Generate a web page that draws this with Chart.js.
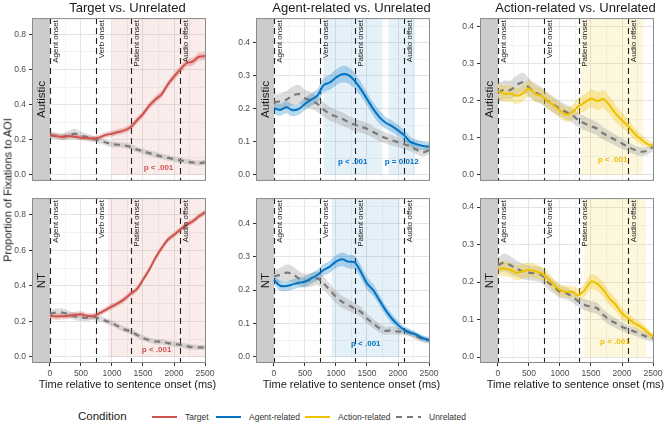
<!DOCTYPE html>
<html><head><meta charset="utf-8">
<script src="https://cdn.jsdelivr.net/npm/chart.js@4.4.1/dist/chart.umd.min.js"></script>
<style>
html,body{margin:0;padding:0;background:#fff;}
body{width:669px;height:441px;position:relative;overflow:hidden;font-family:"Liberation Sans",Arial,Helvetica,sans-serif;color:#1a1a1a;}
canvas{position:absolute;}
.t{position:absolute;white-space:nowrap;line-height:1;transform:translate(-50%,-50%);}
.rot{transform:translate(-50%,-50%) rotate(-90deg);}
.lt{position:absolute;white-space:nowrap;line-height:1;transform:translateY(-50%);}
.key{position:absolute;width:25px;height:2px;}
</style></head><body>
<script>
// ---------------- DATA ----------------
const times = [0,100,200,300,400,500,600,700,800,900,1000,1100,1200,1300,1400,1500,1600,1700,1800,1900,2000,2100,2200,2300,2400,2500];
const comparisons = ['Target vs. Unrelated','Agent-related vs. Unrelated','Action-related vs. Unrelated'];
const groups = ['Autistic','NT'];
const conditions = ['Target','Agent-related','Action-related','Unrelated'];
const eventTimes = [0,750,1300,2100];
const eventLabels = ['Agent onset','Verb onset','Patient onset','Audio offset'];
// axis ticks (major ones are labelled, the others are minor grid lines)
const xTickValues = [0,250,500,750,1000,1250,1500,1750,2000,2250,2500];
const xMajorTicks = [0,500,1000,1500,2000,2500];
const yTickValues = [
  [0,0.1,0.2,0.3,0.4,0.5,0.6,0.7,0.8],
  [0,0.05,0.1,0.15,0.2,0.25,0.3,0.35,0.4,0.45],
  [0,0.05,0.1,0.15,0.2,0.25,0.3,0.35,0.4]
];
const yMajorTicks = [
  [0,0.2,0.4,0.6,0.8],
  [0,0.1,0.2,0.3,0.4],
  [0,0.1,0.2,0.3,0.4]
];

// Target vs Unrelated
const targetAut = [0.226,0.222,0.216,0.222,0.218,0.212,0.210,0.207,0.214,0.228,0.235,0.244,0.254,0.272,0.310,0.347,0.394,0.430,0.459,0.515,0.560,0.600,0.636,0.645,0.673,0.677];
const targetAutSE = [0.015,0.015,0.015,0.015,0.015,0.015,0.015,0.015,0.015,0.016,0.016,0.017,0.017,0.018,0.018,0.019,0.019,0.020,0.020,0.020,0.021,0.021,0.021,0.022,0.022,0.022];
const unrelTargetAut = [0.226,0.222,0.218,0.225,0.235,0.222,0.215,0.205,0.195,0.185,0.175,0.172,0.168,0.160,0.145,0.134,0.124,0.114,0.105,0.097,0.090,0.083,0.077,0.071,0.067,0.072];
const unrelTargetAutSE = [0.018,0.018,0.020,0.025,0.028,0.025,0.020,0.018,0.018,0.017,0.017,0.016,0.016,0.016,0.016,0.016,0.016,0.016,0.016,0.016,0.015,0.015,0.015,0.015,0.015,0.015];
const targetNT = [0.231,0.227,0.229,0.231,0.237,0.240,0.231,0.229,0.246,0.265,0.284,0.302,0.325,0.355,0.381,0.434,0.490,0.556,0.612,0.659,0.687,0.715,0.744,0.762,0.790,0.813];
const targetNTSE = [0.018,0.018,0.017,0.017,0.017,0.017,0.016,0.016,0.016,0.016,0.016,0.016,0.017,0.017,0.017,0.017,0.017,0.017,0.016,0.016,0.016,0.016,0.016,0.016,0.016,0.016];
const unrelTargetNT = [0.242,0.250,0.250,0.240,0.228,0.222,0.220,0.225,0.215,0.203,0.190,0.172,0.155,0.143,0.125,0.107,0.095,0.087,0.085,0.078,0.073,0.068,0.060,0.055,0.054,0.053];
const unrelTargetNTSE = [0.020,0.022,0.022,0.020,0.020,0.020,0.018,0.018,0.016,0.016,0.016,0.016,0.016,0.015,0.015,0.015,0.015,0.015,0.015,0.015,0.015,0.015,0.015,0.015,0.015,0.015];

// Agent-related vs Unrelated
const agentAut = [0.202,0.197,0.205,0.196,0.200,0.215,0.228,0.240,0.272,0.280,0.295,0.305,0.302,0.285,0.260,0.230,0.200,0.175,0.158,0.148,0.135,0.120,0.100,0.093,0.088,0.086];
const agentAutSE = [0.018,0.018,0.018,0.018,0.018,0.018,0.019,0.020,0.022,0.023,0.024,0.025,0.025,0.024,0.022,0.020,0.020,0.020,0.018,0.017,0.017,0.016,0.015,0.014,0.013,0.012];
const unrelAgentAut = [0.220,0.223,0.228,0.240,0.245,0.232,0.225,0.215,0.198,0.185,0.177,0.170,0.160,0.152,0.146,0.140,0.130,0.120,0.112,0.105,0.099,0.093,0.086,0.076,0.068,0.075];
const unrelAgentAutSE = [0.022,0.024,0.026,0.028,0.028,0.026,0.025,0.024,0.022,0.021,0.020,0.020,0.019,0.019,0.018,0.018,0.017,0.017,0.016,0.016,0.015,0.015,0.014,0.013,0.013,0.012];
const agentNT = [0.230,0.213,0.212,0.217,0.222,0.225,0.235,0.245,0.260,0.270,0.285,0.292,0.285,0.283,0.255,0.220,0.200,0.170,0.140,0.115,0.096,0.081,0.073,0.066,0.056,0.051];
const agentNTSE = [0.015,0.015,0.015,0.015,0.015,0.016,0.016,0.016,0.017,0.018,0.019,0.020,0.020,0.020,0.020,0.019,0.018,0.016,0.015,0.014,0.012,0.011,0.010,0.009,0.009,0.008];
const unrelAgentNT = [0.242,0.245,0.252,0.248,0.235,0.228,0.230,0.235,0.220,0.200,0.180,0.165,0.155,0.145,0.135,0.115,0.100,0.086,0.078,0.080,0.076,0.076,0.071,0.061,0.053,0.049];
const unrelAgentNTSE = [0.020,0.022,0.024,0.024,0.022,0.020,0.020,0.020,0.020,0.020,0.019,0.018,0.017,0.016,0.015,0.015,0.014,0.013,0.012,0.012,0.011,0.011,0.010,0.010,0.009,0.009];

// Action-related vs Unrelated
const actionAut = [0.228,0.219,0.220,0.214,0.220,0.234,0.219,0.214,0.200,0.188,0.174,0.163,0.170,0.186,0.196,0.207,0.200,0.205,0.188,0.165,0.148,0.132,0.112,0.097,0.085,0.079];
const actionAutSE = [0.022,0.022,0.022,0.022,0.022,0.022,0.022,0.020,0.020,0.020,0.020,0.020,0.020,0.022,0.023,0.024,0.025,0.025,0.024,0.022,0.020,0.018,0.016,0.014,0.012,0.011];
const unrelActionAut = [0.223,0.230,0.230,0.243,0.250,0.236,0.223,0.214,0.200,0.189,0.179,0.170,0.161,0.148,0.139,0.132,0.125,0.112,0.103,0.094,0.085,0.076,0.068,0.063,0.065,0.076];
const unrelActionAutSE = [0.025,0.025,0.025,0.026,0.026,0.025,0.024,0.023,0.022,0.022,0.021,0.020,0.020,0.020,0.019,0.018,0.018,0.017,0.016,0.015,0.014,0.013,0.012,0.012,0.011,0.011];
const actionNT = [0.236,0.236,0.232,0.225,0.229,0.232,0.229,0.223,0.210,0.192,0.179,0.174,0.174,0.165,0.179,0.201,0.196,0.179,0.156,0.139,0.116,0.103,0.090,0.081,0.068,0.054];
const actionNTSE = [0.020,0.020,0.020,0.020,0.020,0.020,0.019,0.018,0.018,0.017,0.016,0.016,0.016,0.017,0.018,0.020,0.020,0.019,0.018,0.016,0.015,0.014,0.013,0.012,0.011,0.010];
const unrelActionNT = [0.245,0.252,0.245,0.236,0.228,0.225,0.223,0.219,0.200,0.188,0.174,0.170,0.161,0.148,0.139,0.134,0.130,0.112,0.099,0.090,0.081,0.074,0.068,0.061,0.054,0.050];
const unrelActionNTSE = [0.022,0.024,0.024,0.022,0.021,0.020,0.020,0.020,0.019,0.018,0.017,0.016,0.016,0.015,0.015,0.015,0.015,0.014,0.014,0.013,0.012,0.011,0.011,0.010,0.010,0.010];

// significant windows (ms) and their labels
const shadeTargetAut = [[1000,2500]];   const pTargetAut = ['p < .001'];
const shadeTargetNT  = [[940,2500]];    const pTargetNT  = ['p < .001'];
const shadeAgentAut  = [[800,1740],[1845,2275]]; const pAgentAut = ['p < .001','p = 0.012'];
const shadeAgentNT   = [[930,2030]];    const pAgentNT   = ['p < .001'];
const shadeActionAut = [[1350,2345]];   const pActionAut = ['p < .001'];
const shadeActionNT  = [[1385,2385]];   const pActionNT  = ['p < .001'];
const pLabelY = 0.04;

// ---------------- STYLE / LAYOUT ----------------
const FONT = '"Liberation Sans", Arial, sans-serif';
const condColors = ['#CD534C','#0073C2','#EFC000','#7A7A7A'];
const bandColors = ['rgba(205,83,76,0.30)','rgba(0,115,194,0.28)','rgba(239,192,0,0.30)','rgba(134,134,134,0.28)'];
const shadeColors = ['rgba(205,83,76,0.11)','rgba(0,115,194,0.10)','rgba(239,192,0,0.13)'];
const X_MIN = -290, X_MAX = 2516;
const yMin = [-0.034,-0.018,-0.016], yMax = [0.893,0.475,0.424];
const colL = [32,256,480], rowT = [18,198], PW = 174, PH = 165;
const Y_W = 30, PAD_T = 8, PAD_R = 12, PAD_B = 6, X_H = 24;
const GRID_MAJ = '#E4E4E4', GRID_MIN = '#F2F2F2', TICK_COL = '#333333', BORDER = '#8A8A8A';

const panels = [
  {col:0,row:0,cond:0,main:targetAut,mainSE:targetAutSE,unrel:unrelTargetAut,unrelSE:unrelTargetAutSE,shades:shadeTargetAut,pvals:pTargetAut},
  {col:1,row:0,cond:1,main:agentAut,mainSE:agentAutSE,unrel:unrelAgentAut,unrelSE:unrelAgentAutSE,shades:shadeAgentAut,pvals:pAgentAut},
  {col:2,row:0,cond:2,main:actionAut,mainSE:actionAutSE,unrel:unrelActionAut,unrelSE:unrelActionAutSE,shades:shadeActionAut,pvals:pActionAut},
  {col:0,row:1,cond:0,main:targetNT,mainSE:targetNTSE,unrel:unrelTargetNT,unrelSE:unrelTargetNTSE,shades:shadeTargetNT,pvals:pTargetNT},
  {col:1,row:1,cond:1,main:agentNT,mainSE:agentNTSE,unrel:unrelAgentNT,unrelSE:unrelAgentNTSE,shades:shadeAgentNT,pvals:pAgentNT},
  {col:2,row:1,cond:2,main:actionNT,mainSE:actionNTSE,unrel:unrelActionNT,unrelSE:unrelActionNTSE,shades:shadeActionNT,pvals:pActionNT}
];

const inList = (v, list) => list.some(m => Math.abs(m - v) < 1e-6);

const panelPlugin = {
  id: 'panel',
  beforeDatasetsDraw(chart, args, o) {
    const {ctx, chartArea: a, scales: {x, y}} = chart;
    ctx.save();
    const y0 = y.getPixelForValue(0);
    ctx.fillStyle = o.shadeColor;
    o.shades.forEach(s => {
      const x0 = x.getPixelForValue(s[0]), x1 = x.getPixelForValue(s[1]);
      ctx.fillRect(x0, a.top, x1 - x0, y0 - a.top);
    });
    const sx = x.getPixelForValue(0);
    ctx.fillStyle = '#CCCCCC';
    ctx.fillRect(a.left, a.top, sx - a.left, a.bottom - a.top);
    ctx.strokeStyle = '#1F1F1F';
    ctx.lineWidth = 1.1;
    ctx.setLineDash([6, 4]);
    eventTimes.forEach(t => {
      const px = Math.round(x.getPixelForValue(t)) + 0.5;
      ctx.beginPath(); ctx.moveTo(px, a.top); ctx.lineTo(px, a.bottom); ctx.stroke();
    });
    ctx.setLineDash([]);
    ctx.save();
    ctx.translate((a.left + sx) / 2, (a.top + a.bottom) / 2);
    ctx.rotate(-Math.PI / 2);
    ctx.fillStyle = '#1A1A1A';
    ctx.font = '11.5px ' + FONT;
    ctx.textAlign = 'center'; ctx.textBaseline = 'middle';
    ctx.fillText(o.group, 0, 1);
    ctx.restore();
    ctx.restore();
  },
  afterDatasetsDraw(chart, args, o) {
    const {ctx, chartArea: a, scales: {x, y}} = chart;
    ctx.save();
    ctx.fillStyle = '#1A1A1A';
    ctx.font = '8px ' + FONT;
    eventTimes.forEach((t, i) => {
      const px = Math.round(x.getPixelForValue(t)) + 1.5;
      ctx.save();
      ctx.translate(px, a.top + 2);
      ctx.rotate(-Math.PI / 2);
      ctx.textAlign = 'right'; ctx.textBaseline = 'top';
      ctx.fillText(eventLabels[i], 0, 0);
      ctx.restore();
    });
    ctx.fillStyle = o.color;
    ctx.font = 'bold 8px ' + FONT;
    ctx.textAlign = 'center'; ctx.textBaseline = 'middle';
    o.shades.forEach((s, i) => {
      ctx.fillText(o.pvals[i], x.getPixelForValue((s[0] + s[1]) / 2), y.getPixelForValue(pLabelY));
    });
    ctx.restore();
  },
  afterDraw(chart) {
    const {ctx, chartArea: a} = chart;
    ctx.save();
    ctx.strokeStyle = BORDER; ctx.lineWidth = 1;
    ctx.strokeRect(a.left + 0.5, a.top + 0.5, a.right - a.left - 1, a.bottom - a.top - 1);
    ctx.restore();
  }
};

function pts(v, se, sign) { return times.map((t, i) => ({x: t, y: v[i] + sign * (se ? se[i] : 0)})); }

function makeChart(p) {
  const c = p.col, r = p.row;
  const cv = document.createElement('canvas');
  const w = Y_W + PW + PAD_R, h = PAD_T + PH + (r === 1 ? X_H : 0) + PAD_B;
  cv.width = w; cv.height = h;
  cv.style.left = (colL[c] - Y_W) + 'px'; cv.style.top = (rowT[r] - PAD_T) + 'px';
  cv.style.width = w + 'px'; cv.style.height = h + 'px';
  document.body.appendChild(cv);
  const base = {pointRadius: 0, tension: 0.3, borderCapStyle: 'butt'};
  const bandLine = {borderWidth: 0, borderColor: 'rgba(0,0,0,0)'};
  const xMaj = ctx => ctx.tick && inList(ctx.tick.value, xMajorTicks);
  const yMaj = ctx => ctx.tick && inList(ctx.tick.value, yMajorTicks[c]);
  new Chart(cv, {
    type: 'line',
    data: {datasets: [
      Object.assign({}, base, {data: pts(p.main, null, 0), borderColor: condColors[p.cond], borderWidth: 2, fill: false}),
      Object.assign({}, base, {data: pts(p.unrel, null, 0), borderColor: condColors[3], borderWidth: 2.2, borderDash: [6, 5], fill: false}),
      Object.assign({}, base, bandLine, {data: pts(p.main, p.mainSE, 1), backgroundColor: bandColors[p.cond], fill: '+1'}),
      Object.assign({}, base, bandLine, {data: pts(p.main, p.mainSE, -1), fill: false}),
      Object.assign({}, base, bandLine, {data: pts(p.unrel, p.unrelSE, 1), backgroundColor: bandColors[3], fill: '+1'}),
      Object.assign({}, base, bandLine, {data: pts(p.unrel, p.unrelSE, -1), fill: false})
    ]},
    options: {
      responsive: false, animation: false, events: [],
      devicePixelRatio: 1,
      layout: {padding: {left: 0, top: PAD_T, right: PAD_R, bottom: PAD_B}},
      plugins: {
        legend: {display: false}, tooltip: {enabled: false},
        panel: {group: groups[r], shades: p.shades, pvals: p.pvals, color: condColors[p.cond], shadeColor: shadeColors[p.cond]}
      },
      scales: {
        x: {
          type: 'linear', min: X_MIN, max: X_MAX, bounds: 'data',
          afterBuildTicks: s => { s.ticks = xTickValues.map(v => ({value: v})); },
          afterFit: s => { s.height = r === 1 ? X_H : 0; },
          border: {display: false},
          grid: {
            drawTicks: r === 1, tickLength: 3, lineWidth: 1,
            color: ctx => xMaj(ctx) ? GRID_MAJ : GRID_MIN,
            tickColor: ctx => xMaj(ctx) ? TICK_COL : 'rgba(0,0,0,0)'
          },
          ticks: {
            display: r === 1, autoSkip: false, maxRotation: 0, minRotation: 0, padding: 3,
            color: '#4D4D4D', font: {size: 8.5, family: FONT},
            callback: v => inList(v, xMajorTicks) ? String(Math.round(v)) : ''
          }
        },
        y: {
          type: 'linear', min: yMin[c], max: yMax[c], bounds: 'data',
          afterBuildTicks: s => { s.ticks = yTickValues[c].map(v => ({value: v})); },
          afterFit: s => { s.width = Y_W; },
          border: {display: false},
          grid: {
            drawTicks: true, tickLength: 3, lineWidth: 1,
            color: ctx => yMaj(ctx) ? GRID_MAJ : GRID_MIN,
            tickColor: ctx => yMaj(ctx) ? TICK_COL : 'rgba(0,0,0,0)'
          },
          ticks: {
            autoSkip: false, padding: 3, color: '#4D4D4D', font: {size: 8.5, family: FONT},
            callback: v => inList(v, yMajorTicks[c]) ? v.toFixed(1) : ''
          }
        }
      }
    },
    plugins: [panelPlugin]
  });
}
panels.forEach(makeChart);

// ---------------- TEXT ----------------
function addText(txt, x, y, size, cls, extra) {
  const d = document.createElement('div');
  d.className = cls; d.textContent = txt;
  d.style.left = x + 'px'; d.style.top = y + 'px'; d.style.fontSize = size + 'px';
  if (extra) Object.assign(d.style, extra);
  document.body.appendChild(d);
  return d;
}
const pxPerMs = PW / (X_MAX - X_MIN);
comparisons.forEach((t, c) => {
  const cx = colL[c] + (1250 - X_MIN) * pxPerMs;
  addText(t, cx, 6.5, 13, 't');
  addText('Time relative to sentence onset (ms)', cx, 384, 11, 't');
});
addText('Proportion of Fixations to AOI', 8, 190, 11, 't rot');

const keyX = [152, 216, 305, 396];
addText('Condition', 78, 417, 11.5, 'lt');
conditions.forEach((name, i) => {
  const k = document.createElement('div');
  k.className = 'key';
  k.style.left = keyX[i] + 'px'; k.style.top = '416px';
  if (i === 3) k.style.background = 'repeating-linear-gradient(90deg,' + condColors[3] + ' 0 6px, transparent 6px 11px)';
  else k.style.background = condColors[i];
  document.body.appendChild(k);
  addText(name, keyX[i] + 33, 417, 8.5, 'lt', {color: '#333'});
});
</script>
</body></html>
